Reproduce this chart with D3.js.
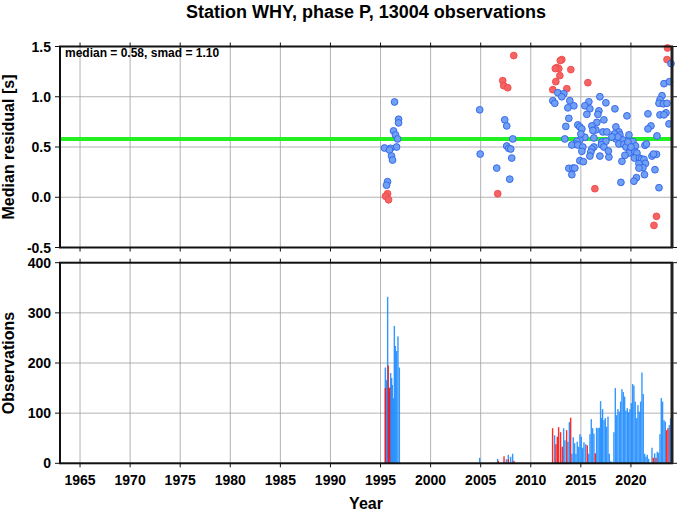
<!DOCTYPE html>
<html><head><meta charset="utf-8">
<script src="https://cdn.jsdelivr.net/npm/d3@7"></script>
<style>
html,body{margin:0;padding:0;background:#fff;}
svg{display:block;font-family:"Liberation Sans",Arial,Helvetica,sans-serif;}
</style></head>
<body>
<script>
// ---------------- data ----------------
const title = "Station WHY, phase P, 13004 observations";
const statsText = "median = 0.58, smad = 1.10";
const medianValue = 0.58;
const yearTicks = [1965,1970,1975,1980,1985,1990,1995,2000,2005,2010,2015,2020];
const residTicks = [-0.5,0.0,0.5,1.0,1.5];
const residTickLabels = ["-0.5","0.0","0.5","1.0","1.5"];
const obsTicks = [0,100,200,300,400];

const blueYears = [1996.4,1996.8,1996.8,1996.3,1996.5,1996.7,1996.6,1995.4,1996.0,1995.9,1996.1,1996.2,1995.7,1995.6,
  2004.9,2004.95,2007.4,2007.6,2008.2,2007.6,2007.8,2008.0,2008.1,2006.6,2007.9,
  2024.0,2023.3,2023.85,2012.7,2013.3,2013.1,2012.2,2012.4,2013.9,2014.3,2013.7,2015.8,2015.4,2015.9,2015.6,
  2016.9,2017.5,2018.4,2016.8,2016.7,2013.8,2017.3,2019.6,2016.6,2014.7,2016.1,2013.5,2014.9,2015.1,2016.5,
  2016.2,2017.2,2017.6,2018.5,2018.8,2018.35,2018.9,2019.8,2021.7,2022.0,2021.7,2022.6,2023.1,2022.9,2022.8,
  2023.25,2023.6,2023.5,2022.9,2023.3,2023.8,2013.4,2015.4,2016.3,2014.9,2014.6,2014.5,2014.1,2014.7,2015.2,
  2017.1,2017.5,2017.05,2017.3,2016.3,2016.1,2016.0,2015.9,2015.1,2016.9,2017.8,2017.75,2014.9,2015.25,
  2013.8,2014.2,2014.4,2014.1,2018.5,2019.2,2020.2,2018.8,2019.3,2019.5,2020.05,2019.9,2020.45,2019.8,
  2020.4,2020.6,2021.4,2019.4,2019.1,2020.35,2020.85,2021.05,2021.3,2021.45,2020.8,2021.2,2020.8,2022.1,
  2022.55,2022.4,2021.35,2020.55,2020.3,2019.0,2022.8,2018.7,2019.7,2021.55,2020.0,2022.25,2015.0,2018.1];
const blueValues = [0.948,0.776,0.74,0.66,0.62,0.58,0.50,0.49,0.487,0.47,0.41,0.37,0.155,0.12,
  0.87,0.43,0.77,0.71,0.58,0.51,0.487,0.48,0.39,0.29,0.18,
  1.33,1.13,1.15,1.04,1.03,1.0,0.96,0.935,0.96,0.91,0.89,0.95,0.91,0.88,0.825,
  1.0,0.94,0.88,0.86,0.825,0.785,0.77,0.81,0.745,0.72,0.71,0.705,0.70,0.68,0.67,
  0.665,0.65,0.65,0.70,0.65,0.63,0.62,0.62,0.83,0.71,0.68,0.61,1.01,0.97,0.935,
  0.93,0.935,0.84,0.82,0.82,0.73,0.58,0.597,0.59,0.57,0.557,0.527,0.52,0.52,0.50,
  0.55,0.557,0.523,0.50,0.50,0.48,0.45,0.41,0.457,0.41,0.40,0.46,0.364,0.354,
  0.288,0.29,0.29,0.225,0.58,0.57,0.553,0.53,0.527,0.50,0.48,0.467,0.51,0.44,
  0.45,0.44,0.517,0.417,0.357,0.39,0.39,0.38,0.377,0.337,0.334,0.294,0.29,0.41,
  0.427,0.274,0.225,0.195,0.16,0.148,0.095,0.60,0.55,0.53,0.50,0.43,0.63,0.60];

const redYears = [1995.7,1995.5,1995.8,2008.3,2007.2,2007.3,2007.7,2006.7,
  2023.65,2023.6,2013.1,2012.95,2012.6,2012.8,2012.45,2014.0,2012.9,2012.5,2015.7,2012.2,2013.6,2016.4,2022.55,2022.3];
const redValues = [0.035,0.01,-0.025,1.41,1.16,1.11,1.09,0.035,
  1.485,1.37,1.37,1.36,1.29,1.28,1.28,1.27,1.21,1.15,1.14,1.07,1.08,0.085,-0.19,-0.28];

const barBlueYears = [1995.41,1995.54,1995.64,1995.74,1995.84,1995.94,1996.04,1996.11,1996.21,1996.31,1996.41,1996.54,1996.67,1996.81,
  2004.83,2006.62,2007.49,2007.69,2007.92,2008.12,
  2012.31,2013.21,2013.34,2013.64,2013.78,2014.04,2014.17,2014.31,2014.44,2014.57,2014.71,2014.84,2014.97,2015.11,
  2015.24,2015.41,2015.71,2015.84,2015.97,2016.11,2016.24,2016.50,2016.64,2016.77,2016.90,2017.00,2017.10,2017.24,
  2017.37,2017.50,2017.64,2017.77,2017.90,2018.04,2018.23,2018.37,2018.50,2018.63,2018.77,2018.90,2019.03,2019.17,
  2019.30,2019.43,2019.57,2019.70,2019.83,2019.97,2020.10,2020.23,2020.36,2020.50,2020.63,2020.76,2020.90,2021.03,
  2021.16,2021.30,2021.43,2021.56,2021.70,2022.03,2022.30,2022.56,2022.69,2022.83,2022.96,2023.09,2023.23,2023.36,
  2023.76,2023.89];
const barBlueCounts = [191,166,332,150,140,180,170,156,130,274,234,224,253,191,
  11,9,8,17,13,19,
  56,70,46,43,82,19,52,40,19,43,33,58,53,31,
  42,38,19,58,88,70,59,71,70,71,124,90,108,86,
  90,73,93,19,4,3,62,150,96,108,103,123,148,142,
  133,105,110,102,108,120,158,155,123,90,116,103,123,181,
  138,19,13,17,9,31,20,23,21,58,130,123,86,83,
  76,90];

const barRedYears = [1995.41,1995.70,1995.84,2006.69,2007.26,2007.69,2008.25,
  2012.11,2012.44,2012.58,2012.71,2012.91,2013.08,2013.51,2013.91,2015.57,2016.37,2022.16,2022.43,2023.49,2023.63];
const barRedCounts = [150,195,151,5,14,8,5,
  70,38,53,72,62,33,66,91,36,20,11,11,66,70];

// ---------------- layout ----------------
const W = 678, H = 511;
const left = 60, right = 672;
const topP = {y0: 46.5, y1: 247.5};
const botP = {y0: 262.7, y1: 463.3};
const barWidthYears = 0.14;

const svg = d3.select("body").append("svg").attr("width", W).attr("height", H);

const x = d3.scaleLinear().domain([1963, 2024.1]).range([left, right]);
const yR = d3.scaleLinear().domain([-0.5, 1.5]).range([topP.y1, topP.y0]);
const yO = d3.scaleLinear().domain([0, 400]).range([botP.y1, botP.y0]);

const gridColor = "#a0a0a0";

function panelGrid(y, ticks, p) {
  const g = svg.append("g");
  g.selectAll("line.v").data(yearTicks).join("line")
    .attr("x1", d => x(d)).attr("x2", d => x(d))
    .attr("y1", p.y0).attr("y2", p.y1)
    .attr("stroke", gridColor).attr("stroke-width", 0.8);
  g.selectAll("line.h").data(ticks).join("line")
    .attr("x1", left).attr("x2", right)
    .attr("y1", d => y(d)).attr("y2", d => y(d))
    .attr("stroke", gridColor).attr("stroke-width", 0.8);
}
panelGrid(yR, residTicks, topP);
panelGrid(yO, obsTicks, botP);

// title
svg.append("text").attr("x", (left + right) / 2).attr("y", 18)
  .attr("text-anchor", "middle").attr("font-size", 18).attr("font-weight", "bold")
  .text(title);

// median line
svg.append("line").attr("x1", left).attr("x2", right)
  .attr("y1", yR(medianValue)).attr("y2", yR(medianValue))
  .attr("stroke", "#22f022").attr("stroke-width", 4);

// points
const pts = svg.append("g");
pts.selectAll("circle.red").data(redYears.map((d, i) => [d, redValues[i]])).join("circle")
  .attr("cx", d => x(d[0])).attr("cy", d => yR(d[1])).attr("r", 3.4)
  .attr("fill", "#f56464").attr("stroke", "#f04848").attr("stroke-width", 0.9);
pts.selectAll("circle.blue").data(blueYears.map((d, i) => [d, blueValues[i]])).join("circle")
  .attr("cx", d => x(d[0])).attr("cy", d => yR(d[1])).attr("r", 3.4)
  .attr("fill", "#70a0f4").attr("stroke", "#2f62ea").attr("stroke-width", 0.9);

svg.append("text").attr("x", 65).attr("y", 57)
  .attr("font-size", 12).attr("font-weight", "bold").text(statsText);

// bars
const bars = svg.append("g");
bars.selectAll("rect.b").data(barBlueYears.map((d, i) => [d, barBlueCounts[i]])).join("rect")
  .attr("x", d => x(d[0])).attr("width", x(1963 + barWidthYears) - x(1963))
  .attr("y", d => yO(d[1])).attr("height", d => yO(0) - yO(d[1]))
  .attr("fill", "#1e8cff").attr("fill-opacity", 0.9);
bars.selectAll("rect.r").data(barRedYears.map((d, i) => [d, barRedCounts[i]])).join("rect")
  .attr("x", d => x(d[0])).attr("width", x(1963 + barWidthYears) - x(1963))
  .attr("y", d => yO(d[1])).attr("height", d => yO(0) - yO(d[1]))
  .attr("fill", "#ff1010").attr("fill-opacity", 0.9);

// frames & axes
function frame(p) {
  svg.append("rect").attr("x", left).attr("y", p.y0)
    .attr("width", right - left).attr("height", p.y1 - p.y0)
    .attr("fill", "none").attr("stroke", "#111").attr("stroke-width", 2);
}
frame(topP); frame(botP);

function ticksAll(y, yt, p) {
  const g = svg.append("g").attr("stroke", "#111").attr("stroke-width", 1);
  g.selectAll("l1").data(yt).join("line")
    .attr("x1", left - 5).attr("x2", left).attr("y1", d => y(d)).attr("y2", d => y(d));
  g.selectAll("l2").data(yt).join("line")
    .attr("x1", right).attr("x2", right + 5).attr("y1", d => y(d)).attr("y2", d => y(d));
  g.selectAll("l3").data(yearTicks).join("line")
    .attr("x1", d => x(d)).attr("x2", d => x(d)).attr("y1", p.y0 - 4).attr("y2", p.y0);
  g.selectAll("l4").data(yearTicks).join("line")
    .attr("x1", d => x(d)).attr("x2", d => x(d)).attr("y1", p.y1).attr("y2", p.y1 + 4);
}
ticksAll(yR, residTicks, topP);
ticksAll(yO, obsTicks, botP);

// right thicker edge
svg.append("line").attr("x1", right).attr("x2", right).attr("y1", topP.y0).attr("y2", topP.y1)
  .attr("stroke", "#222").attr("stroke-width", 3);
svg.append("line").attr("x1", right).attr("x2", right).attr("y1", botP.y0).attr("y2", botP.y1)
  .attr("stroke", "#222").attr("stroke-width", 3);

// tick labels
svg.selectAll("text.rt").data(residTicks).join("text")
  .attr("x", 51).attr("y", d => yR(d)).attr("dy", "0.36em")
  .attr("text-anchor", "end").attr("font-size", 14).attr("font-weight", "bold")
  .text((d, i) => residTickLabels[i]);
svg.selectAll("text.ot").data(obsTicks).join("text")
  .attr("x", 51).attr("y", d => yO(d)).attr("dy", "0.36em")
  .attr("text-anchor", "end").attr("font-size", 14).attr("font-weight", "bold")
  .text(d => d);
svg.selectAll("text.xt").data(yearTicks).join("text")
  .attr("x", d => x(d)).attr("y", 485)
  .attr("text-anchor", "middle").attr("font-size", 14).attr("font-weight", "bold")
  .text(d => d);

// axis titles
svg.append("text").attr("x", (left + right) / 2).attr("y", 509)
  .attr("text-anchor", "middle").attr("font-size", 16).attr("font-weight", "bold").text("Year");
svg.append("text").attr("transform", `translate(14,${(topP.y0 + topP.y1) / 2}) rotate(-90)`)
  .attr("text-anchor", "middle").attr("font-size", 16).attr("font-weight", "bold").text("Median residual [s]");
svg.append("text").attr("transform", `translate(14,${(botP.y0 + botP.y1) / 2}) rotate(-90)`)
  .attr("text-anchor", "middle").attr("font-size", 16).attr("font-weight", "bold").text("Observations");
</script>
</body></html>
